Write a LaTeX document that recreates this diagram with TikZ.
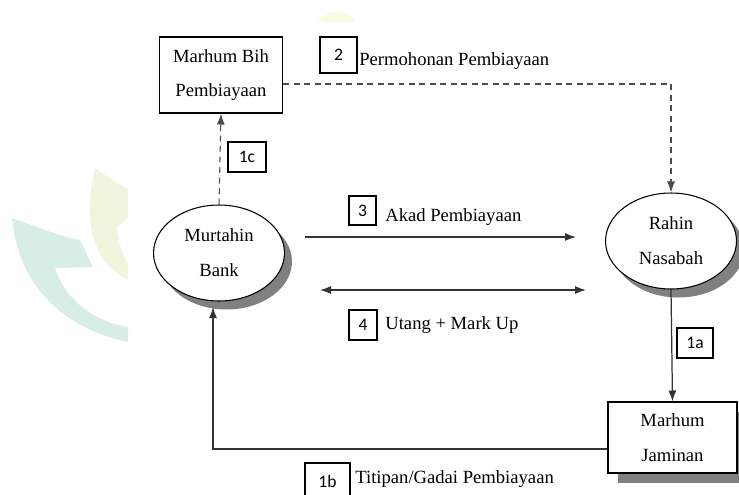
\documentclass[tikz,border=0pt]{standalone}
\usepackage{fontspec}
\setmainfont{Liberation Serif}
\newfontfamily\numfont{Carlito}
\usetikzlibrary{arrows.meta,shadows,shapes.geometric}

\definecolor{wmteal}{HTML}{D8EDE3}
\definecolor{wmgreen}{HTML}{F0F6DE}
\definecolor{wmyellow}{HTML}{F8FCE3}

\tikzset{
    party/.style={draw, ellipse, fill=white, line width=0.6pt, minimum width=2.62cm, minimum height=1.92cm,
        align=center, font=\rmfamily\fontsize{10.6}{19.8}\selectfont,
        drop shadow={shadow xshift=0.15cm, shadow yshift=-0.17cm, fill=black!50, opacity=1}},
    asset/.style={draw, fill=white, line width=0.6pt, align=center, font=\rmfamily\fontsize{10.6}{19.8}\selectfont},
    numbox/.style={draw, line width=0.6pt, inner sep=0pt, minimum height=0.6cm, font=\numfont\fontsize{10}{12}\selectfont},
    caption/.style={anchor=west, inner sep=0pt, font=\rmfamily\fontsize{10.6}{12}\selectfont},
    flow/.style={draw=black!80, line width=0.7pt, -{Latex[length=2.2mm, width=1.6mm]}},
    dflow/.style={flow, draw=black!70, line width=0.6pt, dash pattern=on 1.2mm off 0.9mm}
}

\begin{document}
\begin{tikzpicture}[x=0.02cm, y=-0.02cm]
    \useasboundingbox (0,0) rectangle (739,494);

    % watermark
    \fill[wmteal] (12,218) .. controls (40,228) and (65,238) .. (80,240) -- (93,267) -- (55,268)
        .. controls (65,300) and (95,322) .. (128,327) -- (128,342)
        .. controls (80,332) and (20,300) .. (12,218) -- cycle;
    \fill[wmgreen] (95,168) .. controls (105,175) and (118,183) .. (128,190) -- (128,218) -- (117,227)
        .. controls (118,240) and (122,255) .. (128,263) -- (128,280)
        .. controls (100,265) and (80,235) .. (95,168) -- cycle;
    \fill[wmyellow] (318,22) .. controls (325,8) and (348,8) .. (356,22) -- cycle;

    % parties and assets
    \node[asset, minimum width=2.46cm, minimum height=1.52cm] (bih) at (221,75) {Marhum Bih\\Pembiayaan};
    \node[party] (murtahin) at (219,253) {Murtahin\\Bank};
    \node[party] (rahin) at (671,241) {Rahin\\Nasabah};
    \node[asset, minimum width=2.58cm, minimum height=1.42cm,
        drop shadow={shadow xshift=0.2cm, shadow yshift=-0.2cm, fill=black!50, opacity=1}] (jaminan) at (672.5,437.5) {Marhum\\Jaminan};

    % step numbers
    \node[numbox, minimum width=0.74cm, minimum height=0.72cm] (n2) at (338.5,55) {2};
    \node[numbox, minimum width=0.76cm] (n1c) at (247,157) {1c};
    \node[numbox, minimum width=0.54cm, minimum height=0.58cm] (n3) at (362.5,210.5) {3};
    \node[numbox, minimum width=0.56cm] (n4) at (363,325) {4};
    \node[numbox, minimum width=0.72cm] (n1a) at (695,343) {1a};
    \node[numbox, minimum width=0.9cm, minimum height=0.72cm] (n1b) at (327.5,481) {1b};

    \node[caption] (t2) at (359,61) {Permohonan Pembiayaan};
    \node[caption] (t3) at (385,217) {Akad Pembiayaan};
    \node[caption] (t4) at (385,325) {Utang + Mark Up};
    \node[caption] (t1b) at (355,479) {Titipan/Gadai Pembiayaan};

    % connectors
    \coordinate (akadA) at (305,237);
    \coordinate (akadB) at (576,237);
    \coordinate (utangA) at (320,290);
    \coordinate (utangB) at (586,290);
    \coordinate (gadaiT) at (213,307);

    \draw[dflow] ([yshift=-0.18cm]bih.east) -| (rahin.north);
    \draw[dflow] (murtahin.north) -- (bih.south);
    \draw[flow] (akadA) -- (akadB);
    \draw[flow, {Latex[length=2.2mm, width=1.6mm]}-{Latex[length=2.2mm, width=1.6mm]}] (utangA) -- (utangB);
    \draw[flow] (rahin.south) -- (jaminan.north);
    \draw[flow] ([yshift=-0.23cm]jaminan.west) -| (gadaiT);
\end{tikzpicture}
\end{document}
